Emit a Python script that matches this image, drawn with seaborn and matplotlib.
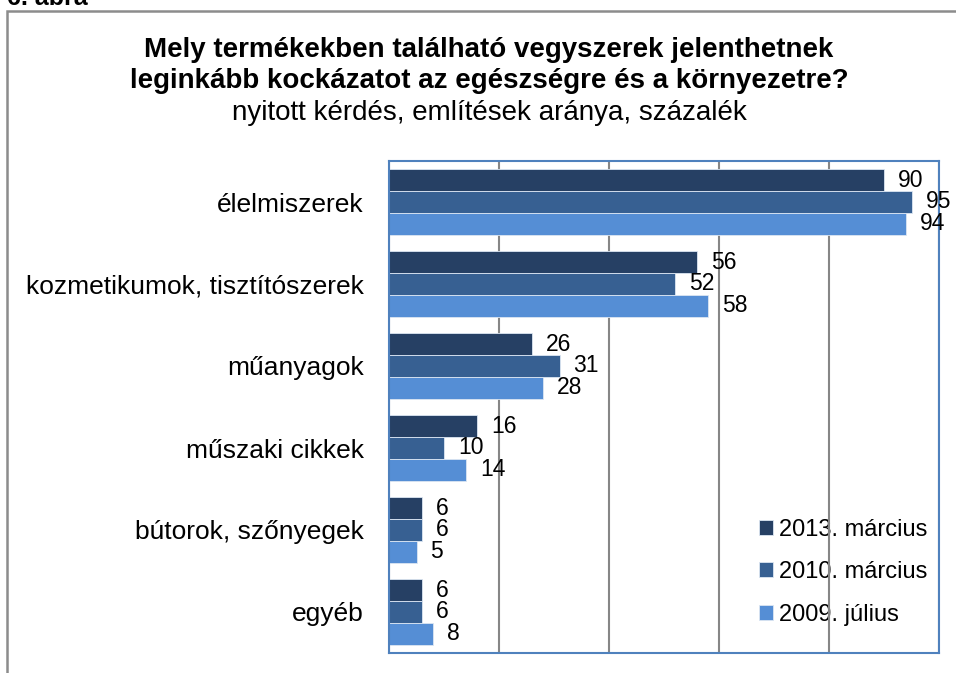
import numpy as np
import pandas as pd
import matplotlib
matplotlib.use("Agg")
import matplotlib.pyplot as plt
import seaborn as sns
from matplotlib.patches import Rectangle

# Stílus
sns.set_style("white")
plt.rcParams['font.family'] = ['Liberation Sans', 'DejaVu Sans']
plt.rcParams['text.color'] = 'black'
plt.rcParams['ytick.color'] = 'black'
plt.rcParams['xtick.color'] = 'black'

# Adatok (említések aránya, %)
kategoriak = ["élelmiszerek", "kozmetikumok, tisztítószerek", "műanyagok",
              "műszaki cikkek", "bútorok, szőnyegek", "egyéb"]
idoszakok = ["2013. március", "2010. március", "2009. július"]
ertek_2013 = [90, 56, 26, 16, 6, 6]
ertek_2010 = [95, 52, 31, 10, 6, 6]
ertek_2009 = [94, 58, 28, 14, 5, 8]
szinek = ["#264064", "#376092", "#558ED5"]

df = pd.DataFrame({
    "kategoria": kategoriak * 3,
    "ertek": ertek_2013 + ertek_2010 + ertek_2009,
    "idoszak": np.repeat(idoszakok, len(kategoriak)),
})

W, H = 956, 673
fig = plt.figure(figsize=(W / 100, H / 100), dpi=100)

# külső keret (jobb és alsó széle kilóg a képből)
fig.patches.append(Rectangle((7 / W, -0.1), 1.2, 1.1 - 11 / H, transform=fig.transFigure,
                             fill=False, edgecolor="#8c8c8c", linewidth=1.8, zorder=0))
fig.text(7 / W, 1 - 5 / H, "6. ábra", fontsize=18, fontweight="bold", va="baseline")

# címek
fig.text(489 / W, 1 - 57 / H, "Mely termékekben található vegyszerek jelenthetnek",
         ha="center", va="baseline", fontsize=20, fontweight="bold")
fig.text(489 / W, 1 - 88 / H, "leginkább kockázatot az egészségre és a környezetre?",
         ha="center", va="baseline", fontsize=20, fontweight="bold")
fig.text(489 / W, 1 - 120 / H, "nyitott kérdés, említések aránya, százalék",
         ha="center", va="baseline", fontsize=20)

ax = fig.add_axes([389 / W, 20 / H, 550 / W, 492 / H])
sns.barplot(data=df, y="kategoria", x="ertek", hue="idoszak", order=kategoriak,
            hue_order=idoszakok, palette=szinek, orient="h", width=0.8, saturation=1,
            edgecolor="#dce6f2", linewidth=0.6, ax=ax)

for c in ax.containers:
    ax.bar_label(c, padding=10, fontsize=16.5)

ax.set_xlim(0, 100)
ax.set_xticks([0, 20, 40, 60, 80, 100])
ax.set_xticklabels([])
ax.set_axisbelow(True)
ax.grid(axis="x", color="#868686", linewidth=1.5)
ax.grid(axis="y", visible=False)
ax.set_xlabel("")
ax.set_ylabel("")
ax.tick_params(axis="both", length=0)
ax.tick_params(axis="y", labelsize=19, pad=18)
for s in ax.spines.values():
    s.set_color("#4F81BD")
    s.set_linewidth(1.5)

leg = ax.legend(loc="upper left", bbox_to_anchor=(759 / W, 1 - 519 / H),
                bbox_transform=fig.transFigure, frameon=False, fontsize=17,
                handlelength=0.6, handleheight=0.6, handletextpad=0.25,
                labelspacing=0.86, borderpad=0, borderaxespad=0)
leg.set_zorder(0.3)

fig.savefig("out.png", dpi=100)
